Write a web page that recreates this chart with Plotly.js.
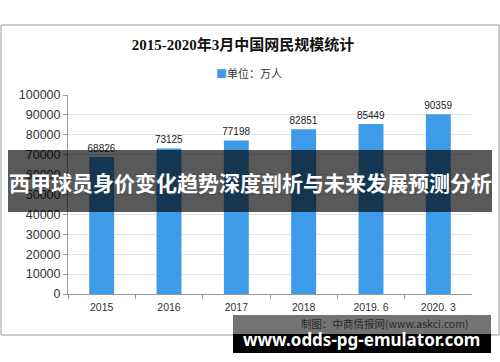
<!DOCTYPE html>
<html>
<head>
<meta charset="utf-8">
<script src="https://cdn.plot.ly/plotly-3.0.1.min.js"></script>
<style>html,body{margin:0;padding:0;background:#fff;}#chart{width:500px;height:362px;}</style>
</head>
<body>
<div id="chart"></div>
<script>
const categories = ["2015", "2016", "2017", "2018", "2019.6", "2020.3"];
const tickLabels = ["2015", "2016", "2017", "2018", "2019. 6", "2020. 3"];
const users = [68826, 73125, 77198, 82851, 85449, 90359];
const seriesName = "单位：万人";
const chartTitle = "2015-2020年3月中国网民规模统计";
const bannerText = "西甲球员身价变化趋势深度剖析与未来发展预测分析";
const sourceText = "制图：中商情报网(www.askci.com)";
const siteText = "www.odds-pg-emulator.com";
const yTicks = [0, 10000, 20000, 30000, 40000, 50000, 60000, 70000, 80000, 90000, 100000];
const yTickLabels = ["0", "10000", "20000", "30000", "40000", "50000", "60000", "70000", "80000", "90000", "100000"];

const W = 500, H = 362;
const px = v => v / W;
const py = v => 1 - v / H;
const barColor = "#3d9be9";

const trace = {
  type: "bar",
  x: categories,
  y: users,
  name: seriesName,
  marker: {color: barColor},
  text: users.map(String),
  textposition: "outside",
  constraintext: "none",
  cliponaxis: false,
  textfont: {family: "Liberation Sans, Arial, sans-serif", size: 10, color: "#222"},
  hoverinfo: "skip",
  showlegend: false
};

const layout = {
  width: W, height: H,
  margin: {l: 0, r: 0, t: 0, b: 0},
  paper_bgcolor: "#fff", plot_bgcolor: "#fff",
  bargap: 0.63,
  showlegend: false,
  title: {
    text: chartTitle,
    x: px(243), xanchor: "center", xref: "paper",
    y: py(45), yanchor: "middle", yref: "paper",
    font: {family: "Liberation Serif, Noto Sans CJK SC, serif", size: 15, color: "#111", weight: "bold"}
  },
  xaxis: {
    domain: [px(68), px(472)],
    type: "category",
    tickvals: categories, ticktext: tickLabels,
    showline: true, linecolor: "#999", linewidth: 1,
    ticks: "outside", tickson: "boundaries", ticklen: 4, tickcolor: "#999",
    ticklabelstandoff: 3,
    tickfont: {family: "Liberation Sans, Arial, sans-serif", size: 10.5, color: "#333"},
    showgrid: false, zeroline: false, fixedrange: true
  },
  yaxis: {
    domain: [py(294), py(95)],
    range: [0, 100000],
    tickvals: yTicks, ticktext: yTickLabels,
    tickfont: {family: "Liberation Sans, Arial, sans-serif", size: 12.5, color: "#333"},
    showline: true, linecolor: "#999", linewidth: 1,
    ticks: "outside", ticklen: 4, tickcolor: "#999",
    showgrid: true, gridcolor: "#e3e3e3", gridwidth: 1,
    zeroline: false, fixedrange: true
  },
  shapes: [
    {type: "rect", xref: "paper", yref: "paper", x0: px(1), x1: px(499), y0: py(335), y1: py(25),
     line: {color: "#9a9a9a", width: 1}, fillcolor: "rgba(0,0,0,0)", layer: "below"},
    {type: "rect", xref: "paper", yref: "paper", x0: px(8), x1: px(492), y0: py(212), y1: py(150),
     line: {width: 0}, fillcolor: "rgba(0,0,0,0.65)", layer: "above"},
    {type: "rect", xref: "paper", yref: "paper", x0: px(233), x1: px(491), y0: py(334), y1: py(315),
     line: {width: 0}, fillcolor: "rgba(0,0,0,0.55)", layer: "above"},
    {type: "rect", xref: "paper", yref: "paper", x0: px(233), x1: px(491), y0: py(353), y1: py(334),
     line: {width: 0}, fillcolor: "#000", layer: "above"}
  ],
  annotations: [
    {text: "<span style='color:" + barColor + "'>■</span>" + seriesName, xref: "paper", yref: "paper",
     x: px(249), y: py(73), xanchor: "center", yanchor: "middle", showarrow: false,
     font: {family: "Noto Sans CJK SC, sans-serif", size: 11, color: "#333"}},
    {text: bannerText, xref: "paper", yref: "paper", x: px(250), y: py(182),
     xanchor: "center", yanchor: "middle", showarrow: false,
     font: {family: "Noto Sans CJK SC, sans-serif", size: 21, color: "#fff", weight: "bold"}},
    {text: sourceText, xref: "paper", yref: "paper", x: px(384), y: py(323),
     xanchor: "center", yanchor: "middle", showarrow: false,
     font: {family: "Noto Sans CJK SC, sans-serif", size: 10.5, color: "#2a2a2a"}},
    {text: siteText, xref: "paper", yref: "paper", x: px(361), y: py(339),
     xanchor: "center", yanchor: "middle", showarrow: false,
     font: {family: "Noto Sans, sans-serif", size: 17, color: "#fff", weight: "bold"}}
  ]
};

Plotly.newPlot("chart", [trace], layout, {displayModeBar: false, staticPlot: true});
</script>
</body>
</html>
